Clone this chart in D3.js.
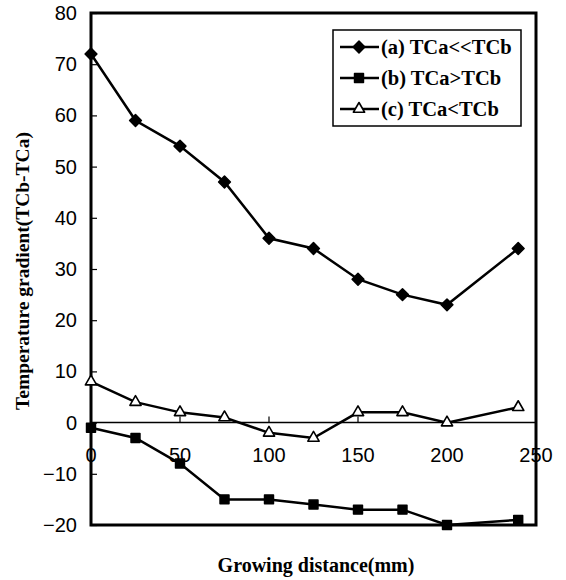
<!DOCTYPE html>
<html lang="en">
<head>
    <meta charset="UTF-8">
    <title>Temperature gradient</title>
    <script src="https://d3js.org/d3.v7.min.js"></script>
    <style>
        body { margin: 0; background: #fff; }
        svg { display: block; }
    </style>
</head>
<body>
    <div id="chart"></div>
    <script>
        // growing distance (mm)
        const distance = [0, 25, 50, 75, 100, 125, 150, 175, 200, 240];
        const seriesA = [72, 59, 54, 47, 36, 34, 28, 25, 23, 34];
        const seriesB = [-1, -3, -8, -15, -15, -16, -17, -17, -20, -19];
        const seriesC = [8, 4, 2, 1, -2, -3, 2, 2, 0, 3];
        const seriesNames = ["(a) TCa<<TCb", "(b) TCa>TCb", "(c) TCa<TCb"];
        const xTicks = [0, 50, 100, 150, 200, 250];
        const yTicks = [-20, -10, 0, 10, 20, 30, 40, 50, 60, 70, 80];

        const W = 566, H = 580;
        const margin = {top: 13, right: 30, bottom: 55, left: 91};

        const svg = d3.select("#chart").append("svg")
            .attr("width", W)
            .attr("height", H);

        const x = d3.scaleLinear().domain([0, 250]).range([margin.left, W - margin.right]);
        const y = d3.scaleLinear().domain([-20, 80]).range([H - margin.bottom, margin.top]);

        const sans = "Arial, 'Liberation Sans', sans-serif";
        const serif = "'Times New Roman', 'Liberation Serif', serif";

        // marker shapes: rounded diamond, square, open triangle
        const diamond = {
            draw(ctx, size) {
                const r = Math.sqrt(size / 2);
                ctx.moveTo(0, -r); ctx.lineTo(r, 0); ctx.lineTo(0, r); ctx.lineTo(-r, 0); ctx.closePath();
            }
        };
        const shapes = [diamond, d3.symbolSquare, d3.symbolTriangle];
        const symSize = [70, 80, 55];

        function marker(sel, k) {
            sel.attr("d", d3.symbol(shapes[k], symSize[k]))
                .attr("fill", k === 2 ? "#fff" : "#000")
                .attr("stroke", "#000")
                .attr("stroke-width", k === 2 ? 1.6 : 1.5)
                .attr("stroke-linejoin", "round");
        }

        // zero line
        svg.append("line")
            .attr("x1", x(0)).attr("x2", x(250))
            .attr("y1", y(0)).attr("y2", y(0))
            .attr("stroke", "#000").attr("stroke-width", 1.5);

        // x ticks sit on the zero line
        svg.append("g")
            .selectAll("line")
            .data(xTicks.slice(1, -1))
            .join("line")
            .attr("x1", d => x(d)).attr("x2", d => x(d))
            .attr("y1", y(0)).attr("y2", y(0) - 6)
            .attr("stroke", "#000").attr("stroke-width", 1.2);

        svg.append("g")
            .selectAll("text")
            .data(xTicks)
            .join("text")
            .attr("x", d => x(d))
            .attr("y", y(0) + 39)
            .attr("text-anchor", "middle")
            .attr("font-family", sans)
            .attr("font-size", 20)
            .text(d => d);

        // y axis, ticks inward
        const yAxis = svg.append("g")
            .attr("transform", `translate(${x(0)},0)`)
            .call(d3.axisRight(y).tickValues(yTicks).tickSize(6).tickFormat(""));
        yAxis.select(".domain").remove();
        yAxis.selectAll("line").attr("stroke-width", 1.2);

        svg.append("g")
            .selectAll("text")
            .data(yTicks)
            .join("text")
            .attr("x", x(0) - 14)
            .attr("y", d => y(d) + 7)
            .attr("text-anchor", "end")
            .attr("font-family", sans)
            .attr("font-size", 20)
            .text(d => d < 0 ? "\u2212" + Math.abs(d) : d);

        // frame
        svg.append("rect")
            .attr("x", x(0)).attr("y", y(80))
            .attr("width", x(250) - x(0))
            .attr("height", y(-20) - y(80))
            .attr("fill", "none")
            .attr("stroke", "#000")
            .attr("stroke-width", 3);

        const line = d3.line()
            .x((d, i) => x(distance[i]))
            .y(d => y(d));

        const allSeries = [seriesA, seriesB, seriesC];

        allSeries.forEach((s, k) => {
            svg.append("path")
                .datum(s)
                .attr("d", line)
                .attr("fill", "none")
                .attr("stroke", "#000")
                .attr("stroke-width", 2.5);

            svg.append("g")
                .selectAll("path")
                .data(s)
                .join("path")
                .attr("transform", (d, i) => `translate(${x(distance[i])},${y(d)})`)
                .call(marker, k);
        });

        // legend
        const lg = svg.append("g").attr("transform", "translate(333,30)");
        lg.append("rect")
            .attr("width", 188).attr("height", 96)
            .attr("fill", "#fff")
            .attr("stroke", "#000").attr("stroke-width", 1.5);

        seriesNames.forEach((name, k) => {
            const yy = 17 + k * 31;
            lg.append("line")
                .attr("x1", 7).attr("x2", 46)
                .attr("y1", yy).attr("y2", yy)
                .attr("stroke", "#000").attr("stroke-width", 2.5);
            lg.append("path")
                .attr("transform", `translate(26,${yy})`)
                .call(marker, k);
            lg.append("text")
                .attr("x", 48).attr("y", yy + 7)
                .attr("font-family", serif)
                .attr("font-weight", "bold")
                .attr("font-size", 20.5)
                .text(name);
        });

        // axis titles
        svg.append("text")
            .attr("transform", `translate(29,${(y(80) + y(-20)) / 2 + 2}) rotate(-90)`)
            .attr("text-anchor", "middle")
            .attr("font-family", serif)
            .attr("font-weight", "bold")
            .attr("font-size", 19.5)
            .text("Temperature gradient(TCb-TCa)");

        svg.append("text")
            .attr("x", 316)
            .attr("y", 572)
            .attr("text-anchor", "middle")
            .attr("font-family", serif)
            .attr("font-weight", "bold")
            .attr("font-size", 20)
            .text("Growing distance(mm)");
    </script>
</body>
</html>
